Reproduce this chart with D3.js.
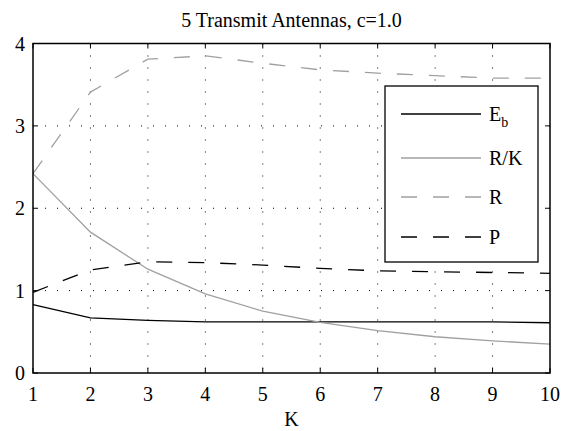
<!DOCTYPE html>
<html>
<head>
<meta charset="utf-8">
<script src="https://cdn.jsdelivr.net/npm/d3@7"></script>
<style>
  body { margin: 0; background: #fff; }
</style>
</head>
<body>
<svg id="chart"></svg>
<script>
// ----------------------------------------- Data -----------------------------------------

var kValues = [1, 2, 3, 4, 5, 6, 7, 8, 9, 10];
var eb = [0.83, 0.67, 0.64, 0.62, 0.62, 0.62, 0.62, 0.62, 0.62, 0.61];
var rOverK = [2.42, 1.71, 1.26, 0.96, 0.75, 0.615, 0.515, 0.44, 0.39, 0.35];
var rate = [2.42, 3.41, 3.81, 3.85, 3.76, 3.68, 3.64, 3.61, 3.58, 3.58];
var power = [0.98, 1.25, 1.35, 1.34, 1.31, 1.27, 1.24, 1.23, 1.22, 1.21];

var xTicks = [1, 2, 3, 4, 5, 6, 7, 8, 9, 10];
var yTicks = [0, 1, 2, 3, 4];

var series = [
    {name: 'E', sub: 'b', values: eb, color: '#000', dash: null},
    {name: 'R/K', sub: '', values: rOverK, color: '#a0a0a0', dash: null},
    {name: 'R', sub: '', values: rate, color: '#a0a0a0', dash: '16,16'},
    {name: 'P', sub: '', values: power, color: '#000', dash: '16,16'}
];

// ----------------------------------------- Layout -----------------------------------------

var width = 571;
var height = 431;
var margin = {top: 43.5, right: 21, bottom: 58, left: 33};
var serif = "'Liberation Serif', Tinos, Times, 'Nimbus Roman', 'Nimbus Roman No9 L', FreeSerif, 'Noto Serif', 'DejaVu Serif', serif";

var svg = d3.select('#chart')
            .attr('width', width)
            .attr('height', height)
            .style('font-family', serif);

var x = d3.scaleLinear()
          .domain([1, 10])
          .range([margin.left, width - margin.right]);

var y = d3.scaleLinear()
          .domain([0, 4])
          .range([height - margin.bottom, margin.top]);

var x0 = x.range()[0], x1 = x.range()[1];
var y0 = y.range()[0], y1 = y.range()[1];

// Grid (dotted)
var grid = svg.append('g');

grid.selectAll('.vgrid')
    .data(xTicks.slice(1, -1))
    .enter()
    .append('line')
        .attr('x1', d => x(d)).attr('x2', d => x(d))
        .attr('y1', y1).attr('y2', y0)
        .attr('stroke', '#000')
        .attr('stroke-width', 1)
        .attr('stroke-dasharray', '1,11');

grid.selectAll('.hgrid')
    .data(yTicks.slice(1, -1))
    .enter()
    .append('line')
        .attr('x1', x0).attr('x2', x1)
        .attr('y1', d => y(d)).attr('y2', d => y(d))
        .attr('stroke', '#000')
        .attr('stroke-width', 1)
        .attr('stroke-dasharray', '1,11');

// Lines
var line = d3.line()
             .x((d, i) => x(kValues[i]))
             .y(d => y(d));

svg.append('g')
   .selectAll('path')
   .data(series)
   .enter()
   .append('path')
       .attr('d', d => line(d.values))
       .attr('fill', 'none')
       .attr('stroke', d => d.color)
       .attr('stroke-width', 1.3)
       .attr('stroke-dasharray', d => d.dash);

// Ticks inside on all four sides
var ticks = svg.append('g').attr('stroke', '#000').attr('stroke-width', 1);

xTicks.forEach(function(t){
    ticks.append('line').attr('x1', x(t)).attr('x2', x(t)).attr('y1', y0).attr('y2', y0 - 5);
    ticks.append('line').attr('x1', x(t)).attr('x2', x(t)).attr('y1', y1).attr('y2', y1 + 5);
});
yTicks.forEach(function(t){
    ticks.append('line').attr('x1', x0).attr('x2', x0 + 5).attr('y1', y(t)).attr('y2', y(t));
    ticks.append('line').attr('x1', x1).attr('x2', x1 - 5).attr('y1', y(t)).attr('y2', y(t));
});

// Box
svg.append('rect')
   .attr('x', x0).attr('y', y1)
   .attr('width', x1 - x0).attr('height', y0 - y1)
   .attr('fill', 'none')
   .attr('stroke', '#000')
   .attr('stroke-width', 1.5);

// Tick labels
svg.append('g')
   .selectAll('text')
   .data(xTicks)
   .enter()
   .append('text')
       .attr('x', d => x(d))
       .attr('y', y0 + 28)
       .attr('text-anchor', 'middle')
       .style('font-size', '20px')
       .text(d => d);

svg.append('g')
   .selectAll('text')
   .data(yTicks)
   .enter()
   .append('text')
       .attr('x', x0 - 8)
       .attr('y', d => y(d) + 7)
       .attr('text-anchor', 'end')
       .style('font-size', '20px')
       .text(d => d);

// Title and axis label
svg.append('text')
   .attr('x', (x0 + x1) / 2)
   .attr('y', 27)
   .attr('text-anchor', 'middle')
   .style('font-size', '20px')
   .text('5 Transmit Antennas, c=1.0');

svg.append('text')
   .attr('x', (x0 + x1) / 2)
   .attr('y', 426)
   .attr('text-anchor', 'middle')
   .style('font-size', '20px')
   .text('K');

// ----------------------------------------- Legend -----------------------------------------

var legend = svg.append('g');

legend.append('rect')
      .attr('x', 385).attr('y', 86)
      .attr('width', 153).attr('height', 176)
      .attr('fill', '#fff')
      .attr('stroke', '#000')
      .attr('stroke-width', 1.3);

var legendY = [114, 158, 197, 237];

var item = legend.selectAll('.item')
                 .data(series)
                 .enter()
                 .append('g')
                     .attr('transform', (d, i) => `translate(0, ${legendY[i]})`);

item.append('line')
    .attr('x1', 401).attr('x2', 481)
    .attr('y1', 0).attr('y2', 0)
    .attr('stroke', d => d.color)
    .attr('stroke-width', 1.3)
    .attr('stroke-dasharray', d => d.dash);

var label = item.append('text')
                .attr('x', 489)
                .attr('y', 7)
                .style('font-size', '20px');

label.append('tspan').text(d => d.name);
label.append('tspan')
     .attr('dy', 6)
     .style('font-size', '14px')
     .text(d => d.sub);
</script>
</body>
</html>
